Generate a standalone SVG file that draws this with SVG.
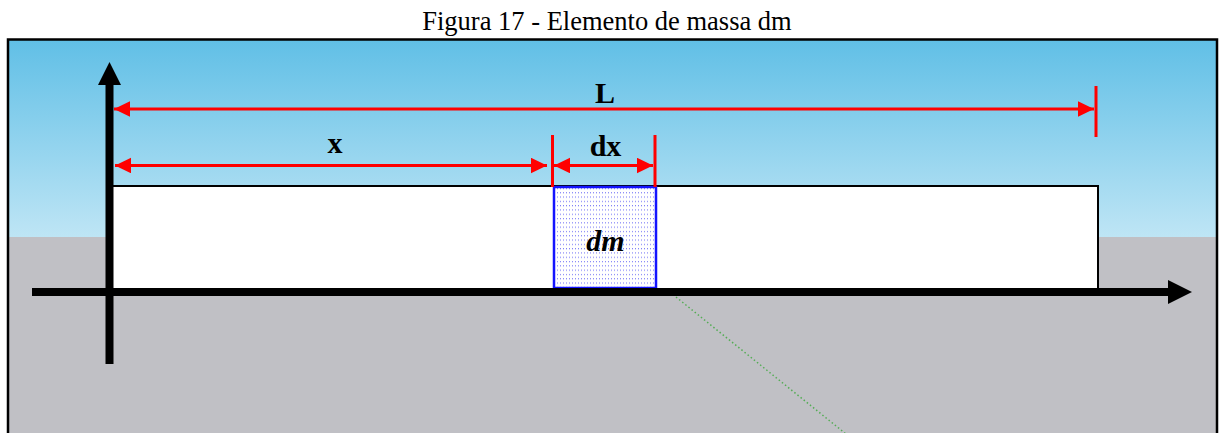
<svg xmlns="http://www.w3.org/2000/svg" width="1220" height="433" viewBox="0 0 1220 433">
<style>
.title{font-family:"Liberation Serif","Times New Roman",serif;font-size:26.5px;fill:#000}
.lbl{font-family:"Liberation Serif","Times New Roman",serif;font-size:30px;font-weight:bold;fill:#000;text-anchor:middle}
.dim{stroke:#ff0000;stroke-width:3;fill:none}
.tick{stroke:#ff0000;stroke-width:3}
.axis{stroke:#000;stroke-width:8}
</style>
<defs>
<linearGradient id="sky" x1="0" y1="39" x2="0" y2="237" gradientUnits="userSpaceOnUse">
<stop offset="0" stop-color="#60bfe6"/>
<stop offset="1" stop-color="#bee5f5"/>
</linearGradient>
<pattern id="dots" x="554" y="187" width="3" height="4.3" patternUnits="userSpaceOnUse">
<rect x="0" y="1" width="1" height="1" fill="#6a6af5"/>
</pattern>
<marker id="ra" markerUnits="userSpaceOnUse" markerWidth="16" markerHeight="16" refX="16" refY="7.75" orient="auto-start-reverse">
<path d="M0,0 L16,7.75 L0,15.5 z" fill="#ff0000"/>
</marker>
</defs>
<rect x="0" y="0" width="1220" height="433" fill="#fff"/>
<text class="title" x="607" y="30" text-anchor="middle">Figura 17 - Elemento de massa dm</text>
<g id="background">
<rect x="7" y="39" width="1211" height="198" fill="url(#sky)"/>
<rect x="7" y="237" width="1211" height="200" fill="#c0c0c5"/>
<path d="M8,440 V39.5 H1217 V440" fill="none" stroke="#000" stroke-width="2.5"/>
</g>
<g id="bar">
<rect x="110" y="186" width="988" height="104" fill="#fff" stroke="#000" stroke-width="2"/>
</g>
<g id="element-dm">
<rect x="554" y="187" width="102" height="101" fill="#fff"/>
<rect x="554" y="187" width="102" height="101" fill="url(#dots)" stroke="#1414ff" stroke-width="2.5"/>
<text class="lbl" x="605.5" y="251" font-style="italic">dm</text>
</g>
<g id="guide">
<line x1="676" y1="297" x2="846" y2="434" stroke="#3aa83a" stroke-width="1.5" stroke-dasharray="1.5 2.5" opacity="0.8"/>
</g>
<g id="axes">
<line class="axis" x1="32" y1="292" x2="1170" y2="292"/>
<polygon points="1168,280 1192,292 1168,304" fill="#000"/>
<line class="axis" x1="109.5" y1="364" x2="109.5" y2="83"/>
<polygon points="98,85 109.5,62 121,85" fill="#000"/>
</g>
<g id="connectors">
<line class="dim" x1="114" y1="109" x2="1094" y2="109" marker-start="url(#ra)" marker-end="url(#ra)"/>
<line class="tick" x1="1096" y1="86" x2="1096" y2="137"/>
<line class="dim" x1="115" y1="165.5" x2="547" y2="165.5" marker-start="url(#ra)" marker-end="url(#ra)"/>
<line class="tick" x1="552.5" y1="135" x2="552.5" y2="187"/>
<line class="dim" x1="554" y1="165.5" x2="653" y2="165.5" marker-start="url(#ra)" marker-end="url(#ra)"/>
<line class="tick" x1="655" y1="135" x2="655" y2="187"/>
</g>
<g id="labels">
<text class="lbl" x="605" y="103">L</text>
<text class="lbl" x="335" y="153">x</text>
<text class="lbl" x="605.5" y="156">dx</text>
</g>
</svg>
